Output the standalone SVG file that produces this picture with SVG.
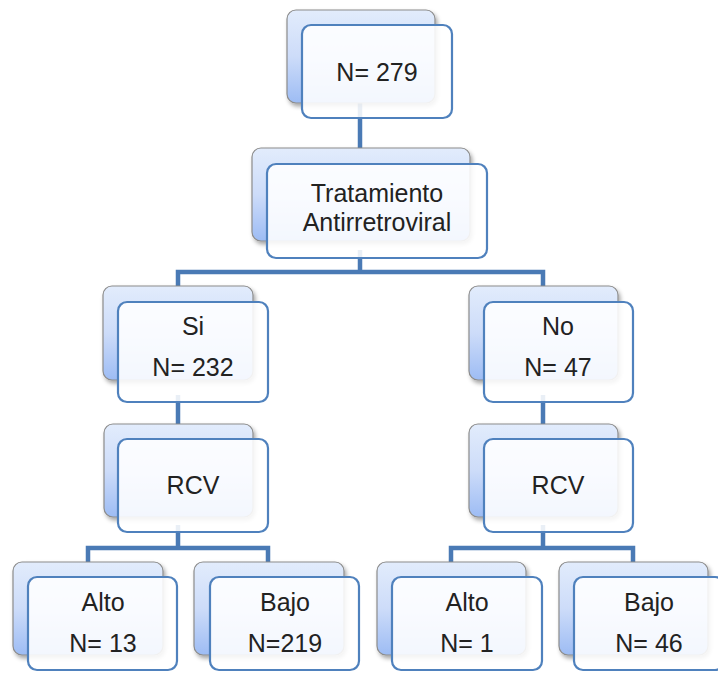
<svg xmlns="http://www.w3.org/2000/svg" width="718" height="673" viewBox="0 0 718 673">
<defs>
<linearGradient id="bg" x1="0" y1="0" x2="0" y2="1">
<stop offset="0" stop-color="#e2ecfc"/>
<stop offset="0.5" stop-color="#cddcf9"/>
<stop offset="1" stop-color="#9dbcf4"/>
</linearGradient>
<filter id="sh" x="-10%" y="-10%" width="130%" height="130%">
<feDropShadow dx="2" dy="3" stdDeviation="2" flood-color="#000" flood-opacity="0.35"/>
</filter>
</defs>
<style>
.back{fill:url(#bg);stroke:#8c8c8c;stroke-width:1.2;filter:url(#sh)}
.front{fill:#ffffff;fill-opacity:0.88;stroke:#4f81bd;stroke-width:2.2}
.conn{fill:none;stroke:#4a7ab5;stroke-width:4.5}
text{font-family:"Liberation Sans",Arial,sans-serif;font-size:25px;fill:#222;text-anchor:middle}
</style>
<rect width="718" height="673" fill="#fff"/>
<g id="connectors">
<path class="conn" d="M360 100 V150"/>
<path class="conn" d="M360 250 V272 M178 287 V272 H543 V287"/>
<path class="conn" d="M178 395 V425"/>
<path class="conn" d="M543 395 V425"/>
<path class="conn" d="M178 525 V548 M88 563 V548 H268 V563"/>
<path class="conn" d="M543 525 V548 M451 563 V548 H633 V563"/>
</g>
<g id="n279">
<rect class="back" x="287" y="10" width="148" height="93" rx="9"/>
<rect class="front" x="302" y="25" width="150" height="93" rx="9"/>
<text x="377" y="81">N= 279</text>
</g>
<g id="tratamiento">
<rect class="back" x="252" y="148" width="218" height="93" rx="9"/>
<rect class="front" x="267" y="164" width="220" height="94" rx="9"/>
<text x="377" y="202">Tratamiento</text>
<text x="377" y="231">Antirretroviral</text>
</g>
<g id="si">
<rect class="back" x="103" y="286" width="150" height="94" rx="9"/>
<rect class="front" x="118" y="302" width="150" height="100" rx="9"/>
<text x="193" y="335">Si</text>
<text x="193" y="376">N= 232</text>
</g>
<g id="no">
<rect class="back" x="469" y="286" width="149" height="94" rx="9"/>
<rect class="front" x="484" y="302" width="149" height="100" rx="9"/>
<text x="558" y="335">No</text>
<text x="558" y="376">N= 47</text>
</g>
<g id="rcv-si">
<rect class="back" x="104" y="424" width="149" height="93" rx="9"/>
<rect class="front" x="118" y="439" width="150" height="93" rx="9"/>
<text x="193" y="494">RCV</text>
</g>
<g id="rcv-no">
<rect class="back" x="469" y="424" width="149" height="93" rx="9"/>
<rect class="front" x="484" y="439" width="149" height="93" rx="9"/>
<text x="558" y="494">RCV</text>
</g>
<g id="alto-si">
<rect class="back" x="13" y="562" width="150" height="93" rx="9"/>
<rect class="front" x="28" y="577" width="149" height="93" rx="9"/>
<text x="103" y="611">Alto</text>
<text x="103" y="652">N= 13</text>
</g>
<g id="bajo-si">
<rect class="back" x="194" y="562" width="150" height="93" rx="9"/>
<rect class="front" x="210" y="577" width="149" height="93" rx="9"/>
<text x="285" y="611">Bajo</text>
<text x="285" y="652">N=219</text>
</g>
<g id="alto-no">
<rect class="back" x="377" y="562" width="149" height="93" rx="9"/>
<rect class="front" x="392" y="577" width="150" height="93" rx="9"/>
<text x="467" y="611">Alto</text>
<text x="467" y="652">N= 1</text>
</g>
<g id="bajo-no">
<rect class="back" x="559" y="562" width="149" height="93" rx="9"/>
<rect class="front" x="574" y="577" width="150" height="93" rx="9"/>
<text x="649" y="611">Bajo</text>
<text x="649" y="652">N= 46</text>
</g>
</svg>
